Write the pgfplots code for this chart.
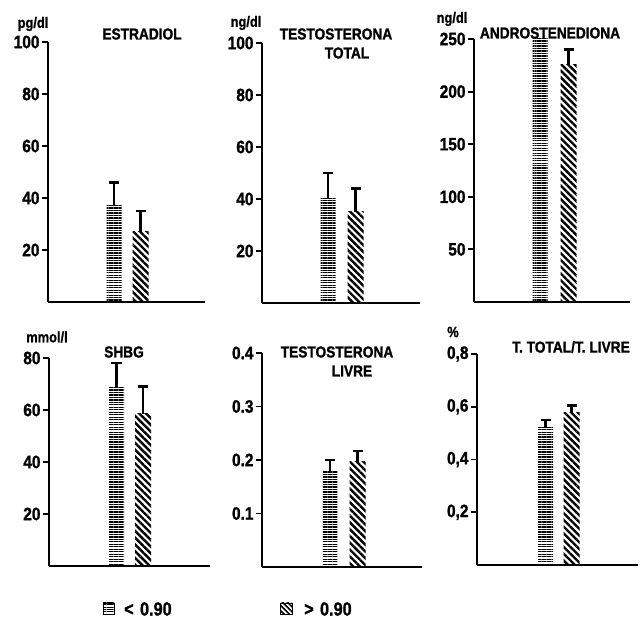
\documentclass[border=0pt]{standalone}
\usepackage{pgfplots}
\pgfplotsset{compat=1.18}
\usetikzlibrary{patterns.meta}
\usepackage{fontspec}
\setmainfont{Liberation Sans}[FakeStretch=0.86, BoldFeatures={FakeBold=1.2}]
\newcommand\tickfont{\bfseries\fontsize{18}{18}\selectfont}
\newcommand\titlefont{\bfseries\fontsize{16}{16}\selectfont}
\newcommand\unitfont{\bfseries\fontsize{15}{15}\selectfont}
\newcommand\legfont{\bfseries\fontsize{19}{19}\selectfont}
\pgfplotsset{
  panel/.style={scale only axis, anchor=south west,
    axis x line=bottom, axis y line=left,
    axis line style={-, line width=2.9pt, black},
    xtick=\empty, tick align=outside, ytick pos=left,
    major tick length=6bp,
    every tick/.style={black, line width=2pt},
    enlargelimits=false, clip=false,
    ticklabel style={font=\tickfont},
    yticklabel style={xshift=1bp},
    /pgf/number format/assume math mode=true},
  errs/.style={error bars/y dir=plus, error bars/y explicit,
    error bars/error mark=-,
    error bars/error bar style={draw=black, solid, line width=2.7pt},
    error bars/error mark options={rotate=90, draw=black, solid, line width=2.5pt, mark size=5bp, fill=none}},
  hbarn/.style={ybar, bar width=15, bar shift=0pt, draw=none,
    pattern={Lines[angle=0,distance=2.5pt,line width=1.4pt]}, pattern color=black},
  hbar/.style={hbarn, errs},
  dbar/.style={ybar, bar width=16, bar shift=0pt, draw=none,
    pattern={Lines[angle=-45,distance=4.8pt,line width=2.4pt]}, pattern color=black, errs},
}
\begin{document}
\begin{tikzpicture}
\useasboundingbox (0bp,0bp) rectangle (640bp,619bp);
% Panel 1
\begin{axis}[panel, at={(48bp,317bp)}, width=157bp, height=260bp,
  xmin=0, xmax=157, ymin=0, ymax=100, ytick={20,40,60,80,100}]
\addplot[hbar] coordinates {(66,37) +- (0,9)};
\addplot[dbar] coordinates {(92.5,27) +- (0,8)};
\end{axis}
% Panel 2
\begin{axis}[panel, at={(262bp,316bp)}, width=158bp, height=260bp,
  xmin=0, xmax=158, ymin=0, ymax=100, ytick={20,40,60,80,100}]
\addplot[hbar] coordinates {(66,40) +- (0,10)};
\addplot[dbar] coordinates {(93.5,35) +- (0,9)};
\end{axis}
% Panel 3
\begin{axis}[panel, at={(474bp,317bp)}, width=156bp, height=263bp,
  xmin=0, xmax=156, ymin=0, ymax=250, ytick={50,100,150,200,250}]
\addplot[hbarn] coordinates {(66,250)};
\addplot[dbar] coordinates {(94.5,226) +- (0,14)};
\end{axis}
% Panel 4
\begin{axis}[panel, at={(49bp,53bp)}, width=161bp, height=208bp,
  xmin=0, xmax=161, ymin=0, ymax=80, ytick={20,40,60,80}]
\addplot[hbar] coordinates {(67.5,68.5) +- (0,9.5)};
\addplot[dbar] coordinates {(94,58.5) +- (0,10.5)};
\end{axis}
% Panel 5
\begin{axis}[panel, at={(262bp,52bp)}, width=160bp, height=214bp,
  xmin=0, xmax=160, ymin=0, ymax=0.4, ytick={0.1,0.2,0.3,0.4},
  yticklabels={0.1,0.2,0.3,0.4}]
\addplot[hbar] coordinates {(68,0.18) +- (0,0.02)};
\addplot[dbar] coordinates {(95.5,0.197) +- (0,0.02)};
\end{axis}
% Panel 6
\begin{axis}[panel, at={(477bp,54bp)}, width=161bp, height=211bp,
  xmin=0, xmax=161, ymin=0, ymax=0.8, ytick={0.2,0.4,0.6,0.8},
  yticklabels={{0,2},{0,4},{0,6},{0,8}}]
\addplot[hbar] coordinates {(68.5,0.52) +- (0,0.03)};
\addplot[dbar] coordinates {(94.5,0.58) +- (0,0.025)};
\end{axis}
% titles
\node[font=\titlefont] at (142bp,585bp) {ESTRADIOL};
\node[font=\unitfont] at (33bp,595bp) {pg/dl};
\node[font=\titlefont] at (336bp,585bp) {TESTOSTERONA};
\node[font=\titlefont] at (347bp,566bp) {TOTAL};
\node[font=\unitfont] at (246bp,596bp) {ng/dl};
\node[font=\titlefont] at (550bp,586bp) {ANDROSTENEDIONA};
\node[font=\unitfont] at (452bp,600bp) {ng/dl};
\node[font=\titlefont] at (124bp,267bp) {SHBG};
\node[font=\unitfont] at (47bp,282bp) {mmol/l};
\node[font=\titlefont] at (337bp,267bp) {TESTOSTERONA};
\node[font=\titlefont] at (352bp,248bp) {LIVRE};
\node[font=\titlefont] at (571bp,272bp) {T. TOTAL/T. LIVRE};
\node[font=\unitfont] at (453bp,287bp) {\%};
% legend
\draw[line width=0.9pt, pattern={Lines[angle=0,distance=2.4pt,line width=1pt]}] (103bp,5bp) rectangle (114bp,16bp);
\node[font=\legfont, anchor=west, inner sep=0pt] at (124bp,10bp) {<\,\,0.90};
\draw[line width=0.9pt, pattern={Lines[angle=-45,distance=3.6pt,line width=1.6pt]}] (280bp,5bp) rectangle (292bp,16bp);
\node[font=\legfont, anchor=west, inner sep=0pt] at (304bp,10bp) {>\,\,0.90};
\end{tikzpicture}
\end{document}
